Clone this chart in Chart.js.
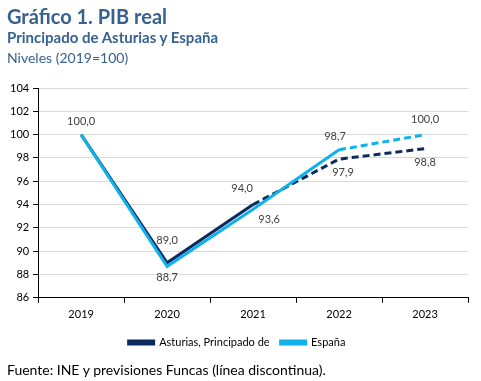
<!DOCTYPE html>
<html lang="es">
<head>
  <meta charset="UTF-8">
  <title>Gráfico 1. PIB real</title>
  <script src="https://cdn.jsdelivr.net/npm/chart.js"></script>
  <style>
    body { margin: 0; background: #fff; font-family: Lato, "Open Sans", sans-serif; }
    .wrap { position: relative; width: 481px; height: 381px; }
    .wrap canvas { position: absolute; left: 0; top: 0; }
    .txt { position: absolute; left: 7px; white-space: nowrap; color: #37618f; }
    .t1 { top: 4px; font-size: 20px; font-weight: bold; }
    .t2 { top: 28px; font-size: 15px; font-weight: bold; }
    .t3 { top: 49px; font-size: 14px; }
    .foot { top: 361px; font-size: 14px; color: #000; }
  </style>
</head>
<body>
  <div class="wrap">
    <canvas id="pib" width="481" height="381"></canvas>
    <div class="txt t1">Gráfico 1. PIB real</div>
    <div class="txt t2">Principado de Asturias y España</div>
    <div class="txt t3">Niveles (2019=100)</div>
    <div class="txt foot">Fuente: INE y previsiones Funcas (línea discontinua).</div>
  </div>

  <script>
    const years = ['2019', '2020', '2021', '2022', '2023'];
    const asturias = [100.0, 89.0, 94.0, 97.9, 98.8];
    const espana = [100.0, 88.7, 93.6, 98.7, 100.0];
    // first segment index that is a forecast (dashed)
    const asturiasForecastFrom = 2;
    const espanaForecastFrom = 3;
    // where each value label goes: [dx, dy] from the point, null = hidden
    const asturiasLabelPos = [null, [0, -22], [-11, -16], [4, 13], [0, 14]];
    const espanaLabelPos = [[0, -13], [0, 11], [16, 10], [-4, -13], [0, -15]];

    const fmt = v => v.toFixed(1).replace('.', ',');

    const valueLabels = {
      id: 'valueLabels',
      afterDatasetsDraw(chart) {
        const c = chart.ctx;
        c.save();
        c.font = '11px Lato, "Open Sans", sans-serif';
        c.fillStyle = '#404040';
        c.textAlign = 'center';
        c.textBaseline = 'middle';
        chart.data.datasets.forEach((ds, i) => {
          const meta = chart.getDatasetMeta(i);
          meta.data.forEach((pt, j) => {
            const off = ds.labelPos[j];
            if (!off) return;
            c.fillText(fmt(ds.data[j]), pt.x + off[0], pt.y + off[1]);
          });
        });
        c.restore();
      }
    };

    const dashFrom = n => ({
      borderDash: ctx => ctx.p0DataIndex >= n ? [7, 4] : undefined
    });

    new Chart(document.getElementById('pib'), {
      type: 'line',
      data: {
        labels: years,
        datasets: [
          {
            label: 'Asturias, Principado de',
            data: asturias,
            borderColor: '#0d2a5c',
            backgroundColor: '#0d2a5c',
            borderWidth: 3,
            pointRadius: 0,
            tension: 0,
            order: 1,
            segment: dashFrom(asturiasForecastFrom),
            labelPos: asturiasLabelPos
          },
          {
            label: 'España',
            data: espana,
            borderColor: '#10b0ec',
            backgroundColor: '#10b0ec',
            borderWidth: 3,
            pointRadius: 0,
            tension: 0,
            order: 0,
            segment: dashFrom(espanaForecastFrom),
            labelPos: espanaLabelPos
          }
        ]
      },
      options: {
        responsive: false,
        animation: false,
        layout: { padding: { left: 6, right: 13, top: 88, bottom: 23 } },
        plugins: {
          legend: {
            position: 'bottom',
            labels: {
              boxWidth: 25,
              boxHeight: 3,
              padding: 11,
              color: '#000',
              font: { size: 11, family: 'Lato, "Open Sans", sans-serif' },
              sort: (a, b) => a.datasetIndex - b.datasetIndex
            }
          },
          tooltip: { enabled: false }
        },
        scales: {
          x: {
            offset: true,
            grid: {
              offset: true,
              drawOnChartArea: false,
              drawTicks: true,
              tickLength: 5,
              color: '#000'
            },
            border: { color: '#000' },
            ticks: { color: '#000', padding: 5, font: { size: 11, family: 'Lato, "Open Sans", sans-serif' } }
          },
          y: {
            min: 86,
            max: 104,
            ticks: { stepSize: 2, color: '#000', padding: 4, font: { size: 11, family: 'Lato, "Open Sans", sans-serif' } },
            grid: { color: '#d9d9d9', tickColor: '#000', tickLength: 5 },
            border: { color: '#000' }
          }
        }
      },
      plugins: [valueLabels]
    });
  </script>
</body>
</html>
